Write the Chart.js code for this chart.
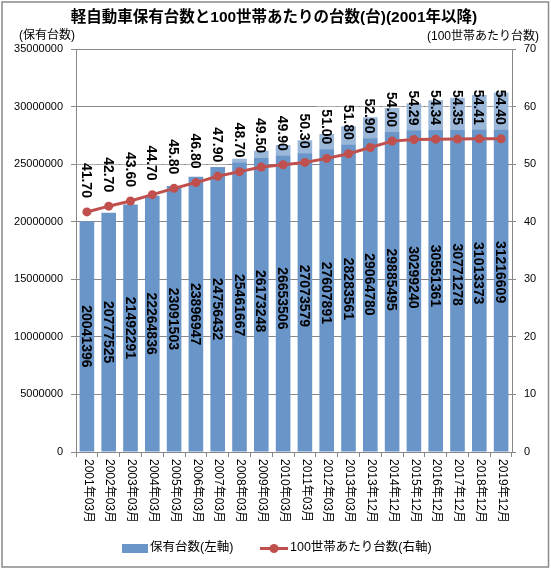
<!DOCTYPE html>
<html><head><meta charset="utf-8">
<script src="https://cdn.jsdelivr.net/npm/chart.js@4/dist/chart.umd.min.js"></script>
<style>html,body{margin:0;padding:0;background:#fff;overflow:hidden}#wrap{width:551px;height:570px;position:relative}</style>
</head><body><div id="wrap"><canvas id="c" width="551" height="570"></canvas></div>
<script>
const categories = ['2001年03月','2002年03月','2003年03月','2004年03月','2005年03月','2006年03月','2007年03月','2008年03月','2009年03月','2010年03月','2011年03月','2012年03月','2013年03月','2013年12月','2014年12月','2015年12月','2016年12月','2017年12月','2018年12月','2019年12月'];
const ownedCounts = [20041396,20777525,21492291,22264836,23091503,23896947,24756432,25461667,26173248,26653506,27073579,27607891,28283561,29064780,29885495,30299240,30551361,30771278,31013373,31216609];
const per100Households = [41.70,42.70,43.60,44.70,45.80,46.80,47.90,48.70,49.50,49.90,50.30,51.00,51.80,52.90,54.00,54.29,54.34,54.35,54.41,54.40];
const leftAxisMax = 35000000, leftAxisStep = 5000000;
const rightAxisMax = 70, rightAxisStep = 10;
const titleText = '軽自動車保有台数と100世帯あたりの台数(台)(2001年以降)';
const leftAxisTitle = '(保有台数)';
const rightAxisTitle = '(100世帯あたり台数)';
const seriesNames = ['保有台数(左軸)', '100世帯あたり台数(右軸)'];

const FONT = '"Liberation Sans", "Noto Sans CJK JP", sans-serif';
const BAR_COLOR = '#6A95C9';
const LINE_COLOR = '#C0504D';
const GRID = '#888888';

const decorPlugin = {
  id: 'decor',
  beforeDraw(chart) {
    const ctx = chart.ctx;
    ctx.save();
    ctx.fillStyle = '#fff';
    ctx.fillRect(0, 0, chart.width, chart.height);
    ctx.restore();
  },
  afterDatasetsDraw(chart) {
    const ctx = chart.ctx;
    ctx.save();
    // bar labels
    const barMeta = chart.getDatasetMeta(0);
    ctx.font = 'bold 14px ' + FONT;
    ctx.fillStyle = '#000';
    ctx.textAlign = 'center';
    ctx.textBaseline = 'middle';
    barMeta.data.forEach((el, i) => {
      const cy = (el.y + el.base) / 2;
      ctx.save();
      ctx.translate(el.x, cy);
      ctx.rotate(Math.PI / 2);
      ctx.fillText(String(ownedCounts[i]), 0, 1);
      ctx.restore();
    });
    // line labels
    const lineMeta = chart.getDatasetMeta(1);
    lineMeta.data.forEach((el, i) => {
      const txt = per100Households[i].toFixed(2);
      const w = ctx.measureText(txt).width;
      const endY = el.y - 14;
      ctx.save();
      ctx.translate(el.x, endY);
      ctx.rotate(Math.PI / 2);
      ctx.fillStyle = 'rgba(255,255,255,0.32)';
      ctx.fillRect(-w - 5, -10, w + 10, 20);
      ctx.fillStyle = '#000';
      ctx.textAlign = 'right';
      ctx.textBaseline = 'middle';
      ctx.fillText(txt, 0, 1);
      ctx.restore();
    });
    ctx.restore();
  },
  afterDraw(chart) {
    const ctx = chart.ctx;
    const xs = chart.scales.x;
    ctx.save();
    // x category labels (rotated clockwise)
    ctx.font = '12px ' + FONT;
    ctx.fillStyle = '#000';
    ctx.textAlign = 'left';
    ctx.textBaseline = 'middle';
    categories.forEach((c, i) => {
      const x = xs.getPixelForValue(i);
      ctx.save();
      ctx.translate(x + 1, chart.chartArea.bottom + 7);
      ctx.rotate(Math.PI / 2);
      ctx.fillText(c, 0, 0);
      ctx.restore();
    });
    // title
    ctx.font = 'bold 15.5px ' + FONT;
    ctx.textAlign = 'center';
    ctx.fillText(titleText, 274, 18);
    // axis titles
    ctx.font = '12px ' + FONT;
    ctx.textAlign = 'left';
    ctx.fillText(leftAxisTitle, 19, 36);
    ctx.textAlign = 'right';
    ctx.fillText(rightAxisTitle, 539, 37);
    // legend
    ctx.fillStyle = BAR_COLOR;
    ctx.fillRect(122, 544, 26, 9);
    ctx.fillStyle = '#000';
    ctx.textAlign = 'left';
    ctx.font = '12.5px ' + FONT;
    ctx.fillText(seriesNames[0], 150, 548);
    ctx.strokeStyle = LINE_COLOR;
    ctx.lineWidth = 3;
    ctx.beginPath();
    ctx.moveTo(260, 548.5);
    ctx.lineTo(288, 548.5);
    ctx.stroke();
    ctx.fillStyle = LINE_COLOR;
    ctx.beginPath();
    ctx.arc(274, 548.5, 4.5, 0, Math.PI * 2);
    ctx.fill();
    ctx.fillStyle = '#000';
    ctx.fillText(seriesNames[1], 290, 548);
    // border
    ctx.strokeStyle = '#8a8a8a';
    ctx.lineWidth = 1.5;
    ctx.strokeRect(2, 2, 546.5, 565);
    ctx.restore();
  }
};

new Chart(document.getElementById('c'), {
  data: {
    labels: categories,
    datasets: [
      {
        type: 'bar',
        label: seriesNames[0],
        data: ownedCounts,
        yAxisID: 'y',
        backgroundColor: BAR_COLOR,
        borderWidth: 0,
        barPercentage: 0.67,
        categoryPercentage: 1.0,
        order: 2
      },
      {
        type: 'line',
        label: seriesNames[1],
        data: per100Households,
        yAxisID: 'y1',
        borderColor: LINE_COLOR,
        borderWidth: 3,
        pointRadius: 4.5,
        pointBackgroundColor: LINE_COLOR,
        pointBorderColor: LINE_COLOR,
        pointBorderWidth: 0,
        tension: 0,
        order: 1
      }
    ]
  },
  options: {
    responsive: false,
    animation: false,
    devicePixelRatio: 1,
    layout: { padding: { top: 49, left: 0, right: 0, bottom: 38 } },
    plugins: { legend: { display: false }, tooltip: { enabled: false }, title: { display: false } },
    scales: {
      x: {
        type: 'category',
        offset: true,
        grid: { offset: true, drawOnChartArea: false, drawTicks: true, tickLength: 5, color: GRID },
        border: { color: GRID, width: 1 },
        ticks: { display: false },
        afterFit(scale) { scale.height = 80; }
      },
      y: {
        position: 'left',
        min: 0,
        max: leftAxisMax,
        ticks: { stepSize: leftAxisStep, padding: 8, color: '#000', font: { size: 11, family: FONT }, callback: v => String(v) },
        grid: { color: GRID, tickLength: 5, drawTicks: true },
        border: { color: GRID, width: 1 },
        afterFit(scale) { scale.width = 76; }
      },
      y1: {
        position: 'right',
        min: 0,
        max: rightAxisMax,
        ticks: { stepSize: rightAxisStep, padding: 8, color: '#000', font: { size: 11, family: FONT } },
        grid: { drawOnChartArea: false, color: GRID, tickLength: 4 },
        border: { color: GRID, width: 1 },
        afterFit(scale) { scale.width = 39; }
      }
    }
  },
  plugins: [decorPlugin]
});
</script></body></html>
